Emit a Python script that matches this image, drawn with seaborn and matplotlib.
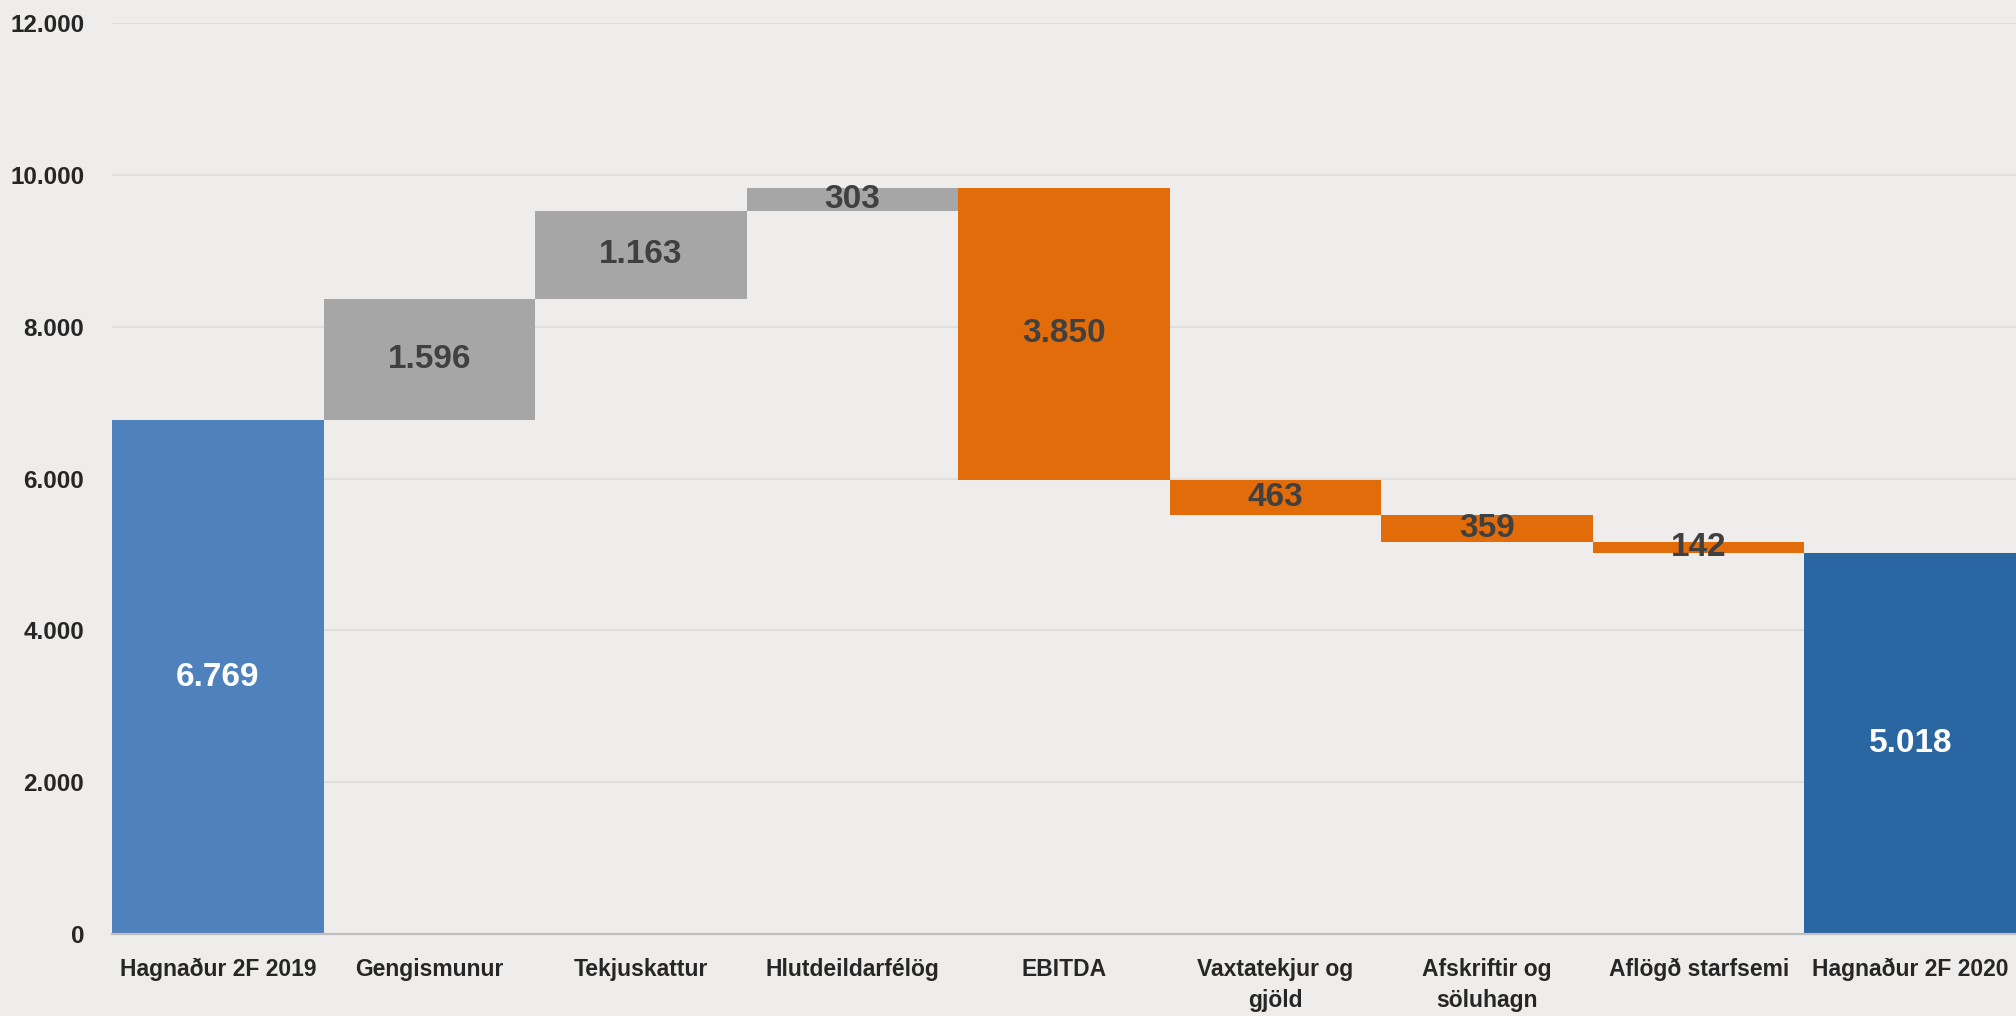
import matplotlib
matplotlib.use("Agg")
import matplotlib.pyplot as plt
import numpy as np
import pandas as pd
import seaborn as sns

# waterfall data (million ISK)
categories = ["Hagnaður 2F 2019", "Gengismunur", "Tekjuskattur", "Hlutdeildarfélög",
              "EBITDA", "Vaxtatekjur og\ngjöld", "Afskriftir og\nsöluhagn",
              "Aflögð starfsemi", "Hagnaður 2F 2020"]
start_value = 6769
changes = [1596, 1163, 303, -3850, -463, -359, -142]
end_value = 5018

bar_colors = ["#4F81BD", "#A6A6A6", "#A6A6A6", "#A6A6A6", "#E36C0A",
              "#E36C0A", "#E36C0A", "#E36C0A", "#2A66A2"]
label_colors = ["white", "#404040", "#404040", "#404040", "#404040",
                "#404040", "#404040", "#404040", "white"]

# build bottoms / heights of the floating bars
running = np.cumsum([start_value] + changes)
bottoms = [0]
heights = [start_value]
for prev, ch in zip(running[:-1], changes):
    bottoms.append(prev if ch > 0 else prev + ch)
    heights.append(abs(ch))
bottoms.append(0)
heights.append(end_value)
shown = [start_value] + [abs(c) for c in changes] + [end_value]

df = pd.DataFrame({"category": categories, "height": heights, "bottom": bottoms, "shown": shown})

sns.set_style("white")
plt.rcParams["font.family"] = ["Liberation Sans", "DejaVu Sans"]
plt.rcParams["font.weight"] = "bold"

bg = "#EEEDEB"
fig = plt.figure(figsize=(20.16, 10.16), dpi=100, facecolor=bg)
ax = fig.add_axes([112 / 2016, 1 - 934 / 1016, 1 - 112 / 2016, (934 - 23) / 1016])
ax.set_facecolor(bg)

sns.barplot(data=df, x="category", y="height", bottom=df["bottom"].values,
            color="#A6A6A6", saturation=1, width=1.0, errorbar=None,
            linewidth=0, ax=ax, zorder=2)

for patch, c in zip(ax.patches, bar_colors):
    patch.set_facecolor(c)
    patch.set_edgecolor(c)

for i, row in df.iterrows():
    ax.text(i, row["bottom"] + row["height"] / 2, f"{row['shown']:,}".replace(",", "."),
            ha="center", va="center", fontsize=24, fontweight="bold",
            color=label_colors[i], zorder=3)

ax.set_ylim(0, 12000)
yt = np.arange(0, 12001, 2000)
ax.set_yticks(yt)
ax.set_yticklabels([f"{v:,}".replace(",", ".") for v in yt], fontsize=17.5, fontweight="bold")
ax.set_xticks(range(len(categories)))
ax.set_xticklabels(categories, fontsize=16.5, fontweight="bold", linespacing=1.45)
ax.tick_params(axis="y", length=0, pad=20)
ax.tick_params(axis="x", length=0, pad=17)
ax.set_xlabel("")
ax.set_ylabel("")

ax.yaxis.grid(True, color="#DCDCDC", linewidth=1.2, zorder=0)
ax.set_axisbelow(True)
for s in ["top", "right", "left"]:
    ax.spines[s].set_visible(False)
ax.spines["bottom"].set_color("#BFBFBF")
ax.spines["bottom"].set_linewidth(1.6)
ax.spines["bottom"].set_zorder(4)

fig.savefig("out.png", dpi=100, facecolor=bg)
